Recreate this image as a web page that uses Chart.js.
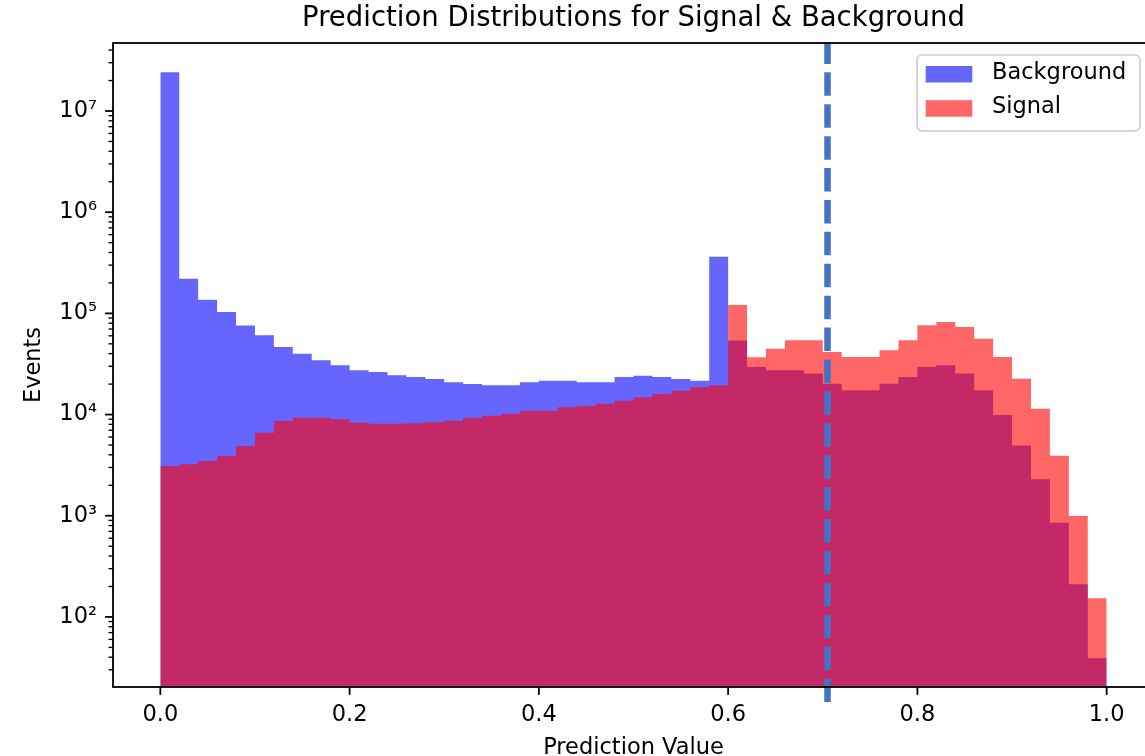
<!DOCTYPE html>
<html>
<head>
<meta charset="utf-8">
<title>Prediction Distributions</title>
<script src="https://cdn.jsdelivr.net/npm/chart.js@4.4.0/dist/chart.umd.min.js"></script>
<style>
  html, body { margin: 0; padding: 0; background: #fff; overflow: hidden; }
  #wrap { width: 1145px; height: 756px; overflow: hidden; }
  canvas { display: block; }
</style>
</head>
<body>
<div id="wrap"><canvas id="chart" width="1200" height="770"></canvas></div>
<script>
// histogram bin edges (50 bins on 0..1)
var binEdges = [
  0.00, 0.02, 0.04, 0.06, 0.08, 0.10, 0.12, 0.14, 0.16, 0.18,
  0.20, 0.22, 0.24, 0.26, 0.28, 0.30, 0.32, 0.34, 0.36, 0.38,
  0.40, 0.42, 0.44, 0.46, 0.48, 0.50, 0.52, 0.54, 0.56, 0.58,
  0.60, 0.62, 0.64, 0.66, 0.68, 0.70, 0.72, 0.74, 0.76, 0.78,
  0.80, 0.82, 0.84, 0.86, 0.88, 0.90, 0.92, 0.94, 0.96, 0.98, 1.00,
];

// counts per bin
var background = [
  2.41e7, 2.2e5, 1.36e5, 1.03e5, 7.6e4, 6.07e4, 4.66e4, 4.0e4, 3.44e4, 3.07e4,
  2.74e4, 2.64e4, 2.44e4, 2.35e4, 2.25e4, 2.09e4, 2.0e4, 1.95e4, 1.95e4, 2.09e4,
  2.16e4, 2.16e4, 2.09e4, 2.09e4, 2.35e4, 2.42e4, 2.35e4, 2.25e4, 2.16e4, 3.63e5,
  5.4e4, 2.95e4, 2.74e4, 2.74e4, 2.54e4, 2.02e4, 1.74e4, 1.74e4, 2.02e4, 2.35e4,
  2.95e4, 3.07e4, 2.54e4, 1.74e4, 9.9e3, 4.95e3, 2.3e3, 855, 210, 39,
];
var signal = [
  3.1e3, 3.22e3, 3.47e3, 3.9e3, 4.9e3, 6.6e3, 8.65e3, 9.3e3, 9.3e3, 8.98e3,
  8.3e3, 8.1e3, 8.1e3, 8.2e3, 8.4e3, 8.7e3, 9.3e3, 9.76e3, 1.02e4, 1.09e4,
  1.09e4, 1.18e4, 1.22e4, 1.28e4, 1.37e4, 1.48e4, 1.6e4, 1.72e4, 1.86e4, 1.95e4,
  1.21e5, 3.68e4, 4.48e4, 5.42e4, 5.42e4, 4.16e4, 3.71e4, 3.71e4, 4.32e4, 5.42e4,
  7.63e4, 8.22e4, 7.34e4, 5.62e4, 3.71e4, 2.26e4, 1.14e4, 3.92e3, 995, 153,
];

var seriesLabels = ["Background", "Signal"];
var seriesColors = ["rgba(0, 0, 255, 0.6)", "rgba(255, 0, 0, 0.6)"];

var chartTitle = "Prediction Distributions for Signal & Background";
var xTicks = [0.0, 0.2, 0.4, 0.6, 0.8, 1.0];
var yDecades = [1e1, 1e2, 1e3, 1e4, 1e5, 1e6, 1e7];
var yMin = 20.3;
var yMax = 4.7e7;

// threshold line
var cutValue = 0.705;
var cutLow = 14.45;

var FONT = "DejaVu Sans";
var supers = ["⁰", "¹", "²", "³", "⁴", "⁵", "⁶", "⁷", "⁸", "⁹"];

// step outline: one point per left edge, closing point at the last edge
function stepPoints(values) {
  return binEdges.map(function (e, i) {
    var v = i < values.length ? values[i] : values[values.length - 1];
    return { x: e, y: v };
  });
}

function isDecade(v) {
  var e = Math.log10(v);
  return Math.abs(e - Math.round(e)) < 1e-6;
}

// title, spines, tick marks, cut line and legend, matplotlib style
var mplExtras = {
  id: "mplExtras",
  afterDatasetsDraw: function (chart) {
    var ctx = chart.ctx;
    var xs = chart.scales.x;
    var ys = chart.scales.y;
    var x = xs.getPixelForValue(cutValue);
    ctx.save();
    ctx.strokeStyle = "#4472c4";
    ctx.lineWidth = 6.5;
    ctx.setLineDash([23.5, 8.4]);
    ctx.beginPath();
    ctx.moveTo(x, ys.getPixelForValue(cutLow));
    ctx.lineTo(x, chart.chartArea.top);
    ctx.stroke();
    ctx.restore();
  },
  afterDraw: function (chart) {
    var ctx = chart.ctx;
    var a = chart.chartArea;
    var xs = chart.scales.x;
    var ys = chart.scales.y;
    ctx.save();

    // title centred over the axes
    ctx.fillStyle = "#000";
    ctx.font = "27.5px '" + FONT + "'";
    ctx.textAlign = "center";
    ctx.textBaseline = "middle";
    ctx.fillText(chartTitle, (a.left + a.right) / 2, 19);

    // tick marks
    ctx.strokeStyle = "#000";
    ctx.lineWidth = 1.8;
    xs.ticks.forEach(function (t) {
      var px = xs.getPixelForValue(t.value);
      ctx.beginPath();
      ctx.moveTo(px, a.bottom);
      ctx.lineTo(px, a.bottom + 7.9);
      ctx.stroke();
    });
    ys.ticks.forEach(function (t) {
      var py = ys.getPixelForValue(t.value);
      var major = isDecade(t.value);
      ctx.lineWidth = major ? 1.8 : 1.35;
      ctx.beginPath();
      ctx.moveTo(a.left - (major ? 7.9 : 4.5), py);
      ctx.lineTo(a.left, py);
      ctx.stroke();
    });

    // frame
    ctx.lineWidth = 1.8;
    ctx.strokeRect(a.left, a.top, a.right - a.left, a.bottom - a.top);

    // legend
    var bx = a.right - 237, by = a.top + 12, bw = 223, bh = 76, r = 5;
    ctx.beginPath();
    ctx.moveTo(bx + r, by);
    ctx.lineTo(bx + bw - r, by);
    ctx.arcTo(bx + bw, by, bx + bw, by + r, r);
    ctx.lineTo(bx + bw, by + bh - r);
    ctx.arcTo(bx + bw, by + bh, bx + bw - r, by + bh, r);
    ctx.lineTo(bx + r, by + bh);
    ctx.arcTo(bx, by + bh, bx, by + bh - r, r);
    ctx.lineTo(bx, by + r);
    ctx.arcTo(bx, by, bx + r, by, r);
    ctx.closePath();
    ctx.fillStyle = "rgba(255,255,255,0.8)";
    ctx.fill();
    ctx.strokeStyle = "#cccccc";
    ctx.lineWidth = 1.6;
    ctx.stroke();

    ctx.font = "22.5px '" + FONT + "'";
    ctx.textBaseline = "middle";
    ctx.textAlign = "left";
    seriesLabels.forEach(function (label, i) {
      var cy = by + 19.2 + i * 34.2;
      ctx.fillStyle = seriesColors[i];
      ctx.fillRect(bx + 8.7, cy - 8.2, 46.6, 16.5);
      ctx.fillStyle = "#000";
      ctx.fillText(label, bx + 75, cy - 1);
    });
    ctx.restore();
  },
};

var ctx = document.getElementById("chart").getContext("2d");

new Chart(ctx, {
  type: "line",
  data: {
    datasets: [
      {
        label: seriesLabels[0],
        data: stepPoints(background),
        stepped: "before",
        fill: "start",
        backgroundColor: seriesColors[0],
        borderColor: "rgba(0,0,0,0)",
        borderWidth: 0,
        pointRadius: 0,
        order: 1,
      },
      {
        label: seriesLabels[1],
        data: stepPoints(signal),
        stepped: "before",
        fill: "start",
        backgroundColor: seriesColors[1],
        borderColor: "rgba(0,0,0,0)",
        borderWidth: 0,
        pointRadius: 0,
        order: 0,
      },
    ],
  },
  options: {
    responsive: false,
    animation: false,
    layout: { padding: { left: 0, right: 46, top: 43, bottom: 0 } },
    plugins: {
      legend: { display: false },
      tooltip: { enabled: false },
      title: { display: false },
    },
    scales: {
      x: {
        type: "linear",
        min: -0.05,
        max: 1.05,
        grid: { display: false, drawTicks: false },
        border: { display: false },
        afterBuildTicks: function (scale) {
          scale.ticks = xTicks.map(function (v) { return { value: v }; });
        },
        afterFit: function (scale) { scale.height = 83; },
        ticks: {
          autoSkip: false,
          maxRotation: 0,
          padding: 14.3,
          color: "#000",
          font: { family: FONT, size: 22.5, lineHeight: 1.2 },
          callback: function (v) { return Number(v).toFixed(1); },
        },
        title: {
          display: true,
          text: "Prediction Value",
          color: "#000",
          font: { family: FONT, size: 22.5, lineHeight: 1.2 },
          padding: { top: 0, bottom: 8.5 },
        },
      },
      y: {
        type: "logarithmic",
        min: yMin,
        max: yMax,
        grid: { display: false, drawTicks: false },
        border: { display: false },
        afterBuildTicks: function (scale) {
          var ticks = [];
          yDecades.forEach(function (d) {
            for (var m = 1; m <= 9; m++) {
              var v = d * m;
              if (v >= scale.min && v <= scale.max) ticks.push({ value: v });
            }
          });
          scale.ticks = ticks;
        },
        afterFit: function (scale) { scale.width = 113; },
        ticks: {
          autoSkip: false,
          padding: 16,
          color: "#000",
          font: { family: FONT, size: 22.5, lineHeight: 1.2 },
          callback: function (v) {
            if (!isDecade(v)) return "";
            return "10" + supers[Math.round(Math.log10(v))];
          },
        },
        title: {
          display: true,
          text: "Events",
          color: "#000",
          font: { family: FONT, size: 22.5, lineHeight: 1.2 },
          padding: { top: 20.5, bottom: 0 },
        },
      },
    },
  },
  plugins: [mplExtras],
});
</script>
</body>
</html>
